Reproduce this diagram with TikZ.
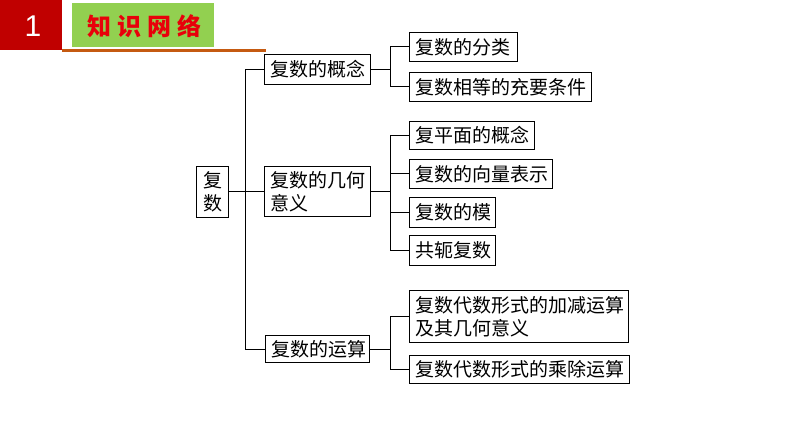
\documentclass[tikz,border=0pt]{standalone}
\usepackage{fontspec}
\newfontfamily\cjk{Noto Sans CJK SC}
\setsansfont{Liberation Sans}
\definecolor{hdrred}{HTML}{C00000}
\definecolor{hdrgreen}{HTML}{92D050}
\definecolor{hdrtext}{HTML}{E8000A}
\definecolor{hdrline}{HTML}{C55A11}
\tikzset{
  box/.style={draw, line width=1pt, anchor=north west, inner xsep=6pt, inner ysep=0pt,
    align=left, font=\cjk\fontsize{19}{23}\selectfont},
  link/.style={line width=1pt},
}
\begin{document}
\begin{tikzpicture}[x=1pt,y=-1pt]
\useasboundingbox (0,0) rectangle (794,446);
% header
\fill[hdrred] (0,0) rectangle (62,50);
\node[text=white, font=\sffamily\fontsize{30}{30}\selectfont] (num) at (33,26) {1};
\fill[hdrgreen] (72,3) rectangle (214,47);
\node[text=hdrtext, font=\cjk\bfseries\fontsize{24}{24}\selectfont] (title) at (144,26) {知\hspace{6pt}识\hspace{6pt}网\hspace{6pt}络};
\draw[hdrline, line width=3pt] (62,51) -- (266,51);
% root
\node[box, text width=20pt, align=center, minimum height=51pt, inner xsep=6pt] (root) at (196,166) {复\\数};
% level 2
\node[box, text width=94pt, minimum height=30pt] (a) at (264,54) {复数的概念};
\node[box, text width=94pt, minimum height=50pt] (b) at (264,166) {复数的几何\\意义};
\node[box, text width=92pt, minimum height=27pt] (c) at (265,335) {复数的运算};
% level 3
\node[box, text width=96pt, minimum height=29pt] (a1) at (409,32) {复数的分类};
\node[box, text width=170pt, minimum height=29pt] (a2) at (409,72) {复数相等的充要条件};
\node[box, text width=113pt, minimum height=28pt] (b1) at (409,121) {复平面的概念};
\node[box, text width=131pt, minimum height=29pt] (b2) at (409,159) {复数的向量表示};
\node[box, text width=74pt, minimum height=30pt] (b3) at (409,197) {复数的模};
\node[box, text width=74pt, minimum height=30pt] (b4) at (409,235) {共轭复数};
\node[box, text width=207pt, minimum height=52pt] (c1) at (409,290) {复数代数形式的加减运算\\及其几何意义};
\node[box, text width=208pt, minimum height=28pt] (c2) at (409,355) {复数代数形式的乘除运算};
% connectors
\coordinate (tx) at (245,0);
\coordinate (bx) at (390,0);
\draw[link] (root.east) -- (root.east -| tx);
\draw[link] (a.west) -- (a.west -| tx) -- (c.west -| tx) -- (c.west);
\draw[link] (b.west) -- (b.west -| tx);
\draw[link] (a.east) -- (a.east -| bx);
\draw[link] (a1.west) -- (a1.west -| bx) -- (a2.west -| bx) -- (a2.west);
\draw[link] (b.east) -- (b.east -| bx);
\draw[link] (b1.west) -- (b1.west -| bx) -- (b4.west -| bx) -- (b4.west);
\draw[link] (b2.west) -- (b2.west -| bx);
\draw[link] (b3.west) -- (b3.west -| bx);
\draw[link] (c.east) -- (c.east -| bx);
\draw[link] (c1.west) -- (c1.west -| bx) -- (c2.west -| bx) -- (c2.west);
\end{tikzpicture}
\end{document}
